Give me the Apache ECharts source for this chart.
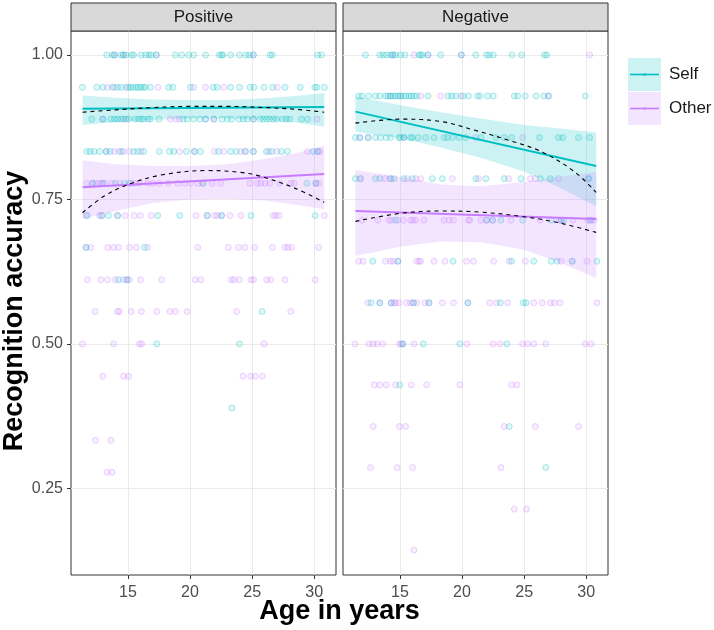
<!DOCTYPE html>
<html><head><meta charset="utf-8">
<script src="https://cdn.jsdelivr.net/npm/echarts@6.0.0/dist/echarts.min.js"></script>
<style>html,body{margin:0;padding:0;background:#fff}#c{width:714px;height:630px}</style>
</head><body><div id="c"></div>
<script>
// ---------------- data ----------------
const panels = ['Positive', 'Negative'];
const groups = ['Self', 'Other'];
const xTicks = [15, 20, 25, 30];
const yTicks = [0.25, 0.50, 0.75, 1.00];
const xLabel = 'Age in years';
const yLabel = 'Recognition accuracy';

// observed points: [accuracy, [ages...]]
const posSelf = [
  [1.000, [13.30,13.76,13.92,14.46,14.65,14.84,15.30,15.46,16.08,16.43,16.70,16.86,17.29,18.82,19.33,19.90,20.30,21.25,22.35,22.54,22.65,23.27,23.99,24.50,24.77,25.10,26.44,26.63,30.27,30.59]],
  [0.944, [11.34,12.50,12.98,13.76,14.17,14.46,15.00,15.19,15.40,15.65,15.83,16.02,16.24,16.40,16.80,18.28,18.61,20.04,21.87,22.19,23.27,23.99,24.83,25.15,25.96,26.66,27.65,28.87,30.05,30.21,30.81]],
  [0.889, [12.09,12.98,13.63,13.92,14.17,14.46,14.84,15.05,15.57,15.86,16.08,16.27,16.62,16.80,17.50,19.44,19.77,20.30,20.79,21.25,21.92,22.57,23.00,23.35,23.94,24.29,24.61,25.10,25.64,25.90,26.17,26.42,26.71,26.98,27.44,27.76,28.03,28.97,29.46]],
  [0.833, [11.69,11.96,12.28,12.71,13.25,13.57,14.46,15.46,15.78,16.27,17.53,18.34,18.69,19.71,20.36,20.84,22.30,23.27,23.72,24.42,25.10,26.15,26.58,27.36,27.84,29.92,30.27]],
  [0.778, [12.15,12.95,13.98,14.73,15.13,21.03,29.41,30.13]],
  [0.722, [11.69,12.90,13.44,14.17,17.40,19.17,21.38,22.54,24.91,30.08]],
  [0.667, [11.63,16.35]],
  [0.611, [14.25,14.92]],
  [0.556, [25.80]],
  [0.500, [17.32,23.97]],
  [0.389, [23.37]]
];
const posOther = [
  [1.000, [13.92,14.65,17.29,25.10]],
  [0.944, [13.36,13.92,14.84,17.42,20.30,21.25,22.73,27.04]],
  [0.889, [12.98,14.65,18.42,18.88,19.15,21.25,21.92,25.10,30.21]],
  [0.833, [13.25,13.90,14.27,14.65,15.11,16.05,19.15,20.36,21.97,22.73,24.07,24.50,25.10,26.34,26.98,29.46,30.27,30.46]],
  [0.778, [11.69,12.15,12.42,12.68,12.95,13.17,13.71,14.33,15.32,15.59,15.94,16.59,17.02,17.53,18.23,19.01,19.55,20.04,20.63,21.03,21.79,22.46,24.83,25.42,25.69,26.04,26.42,27.22,28.11,28.38,30.13,30.35]],
  [0.722, [11.69,12.71,12.90,14.17,14.78,15.51,16.00,16.88,20.49,21.38,21.97,22.19,22.54,23.21,24.10,26.69,26.90,27.17,30.81]],
  [0.667, [11.63,12.01,13.38,13.84,14.25,15.13,15.67,16.59,20.63,23.08,23.89,24.42,25.20,26.63,27.63,27.87,28.17,30.35]],
  [0.611, [11.74,12.82,13.36,13.98,14.65,14.92,15.13,16.02,17.72,20.41,20.87,23.32,23.54,23.97,24.91,25.12,26.17,26.50,27.65,30.08]],
  [0.556, [12.36,14.17,14.30,15.27,16.08,17.32,18.37,18.82,19.77,23.75,28.11]],
  [0.500, [11.34,13.84,15.92,16.10,25.96]],
  [0.444, [12.98,14.65,15.05,24.26,24.88,25.23,25.82]],
  [0.333, [12.39,13.63]],
  [0.278, [13.33,13.71]]
];
const negSelf = [
  [1.000, [12.23,13.38,13.65,13.92,14.25,14.43,14.65,15.05,15.40,16.53,16.67,16.80,17.26,18.28,19.95,21.11,21.97,22.19,22.51,24.02,24.80,26.63,26.82]],
  [0.929, [11.69,11.96,12.50,13.03,13.38,13.84,14.03,14.25,14.46,14.65,14.84,15.05,15.27,15.48,15.73,15.92,16.13,16.35,17.26,18.88,19.17,19.50,20.09,20.52,21.25,21.46,22.06,22.51,24.21,24.48,25.10,25.96,26.58,26.96,29.92]],
  [0.857, [11.42,11.77,12.44,13.03,13.44,13.90,14.25,14.92,15.05,15.32,15.86,16.00,16.46,17.08,17.75,18.55,18.82,19.23,19.77,20.30,21.52,22.73,23.40,23.99,26.23,27.76,28.11,29.38,30.27]],
  [0.786, [11.42,11.82,13.03,13.38,14.25,14.52,15.32,16.00,17.61,18.42,21.11,21.92,23.40,24.75,26.31,27.12,30.19]],
  [0.714, [14.65,21.97,22.46,23.13,24.88,27.17,27.98,28.19,30.35]],
  [0.643, [12.82,14.84,19.28,23.99,25.77,27.17,27.65,28.87,30.86]],
  [0.571, [12.68,13.38,14.30,16.08,17.34,20.47,23.08,24.94,25.15]],
  [0.500, [15.24,16.88,19.82,23.62]],
  [0.429, [15.00]],
  [0.357, [23.80]],
  [0.286, [26.74]]
];
const negOther = [
  [1.000, [14.43,16.13,17.26,19.95,30.27]],
  [0.929, [14.25,15.05,16.67,18.28,19.90,26.96]],
  [0.857, [11.77,12.44,15.32,21.11,24.88]],
  [0.786, [11.82,13.79,14.25,15.59,16.27,16.67,19.23,21.33,23.75,25.50,25.90,27.76,30.19]],
  [0.714, [11.96,13.25,14.11,14.30,14.84,15.27,15.86,16.05,16.27,16.94,18.55,18.96,19.31,20.52,20.63,21.52,21.97,22.46,23.94,26.28,27.84,27.98,28.92,30.13,30.35,30.62]],
  [0.643, [11.69,12.04,13.84,14.25,14.46,14.84,16.35,16.53,16.67,17.75,18.63,20.36,20.92,22.54,23.80,25.10,27.98,28.87,30.05]],
  [0.571, [12.42,13.38,14.30,14.52,14.65,14.92,15.54,15.86,16.08,16.35,17.02,17.34,18.42,19.31,20.47,22.24,22.78,23.67,25.77,26.44,27.12,27.44,27.90,30.86]],
  [0.500, [11.37,12.50,12.85,13.17,13.63,14.97,15.11,15.24,16.13,20.38,22.51,23.08,24.88,25.28,25.77,26.74,29.92,30.40]],
  [0.429, [12.95,13.38,13.90,14.65,15.92,17.15,19.82,23.99,24.42]],
  [0.357, [12.85,14.97,15.46,23.40,25.90,29.38]],
  [0.286, [12.63,14.78,16.02,23.13]],
  [0.214, [24.21,25.18]],
  [0.143, [16.13]]
];

// linear fits (endpoints) and their confidence bands
const posSelfLin  = [[11.35, 0.907], [30.8, 0.910]];
const posOtherLin = [[11.35, 0.771], [30.8, 0.794]];
const negSelfLin  = [[11.42, 0.902], [30.8, 0.808]];
const negOtherLin = [[11.42, 0.730], [30.8, 0.716]];

const posBandAge   = [11.35, 14, 17, 20, 23, 26, 28.5, 30.8];
const posSelfHi    = [0.930, 0.926, 0.923, 0.922, 0.922, 0.925, 0.929, 0.934];
const posSelfLo    = [0.879, 0.884, 0.888, 0.890, 0.890, 0.888, 0.883, 0.876];
const posOtherHi   = [0.818, 0.811, 0.808, 0.808, 0.811, 0.820, 0.830, 0.843];
const posOtherLo   = [0.716, 0.730, 0.744, 0.750, 0.751, 0.748, 0.741, 0.733];

const negBandAge   = [11.42, 15.05, 18.28, 21.5, 25.02, 27.7, 30.8];
const negSelfHi    = [0.928, 0.913, 0.901, 0.890, 0.879, 0.873, 0.866];
const negSelfLo    = [0.867, 0.856, 0.840, 0.822, 0.798, 0.772, 0.738];
const negOtherHi   = [0.801, 0.789, 0.776, 0.773, 0.780, 0.789, 0.798];
const negOtherLo   = [0.652, 0.668, 0.677, 0.676, 0.663, 0.642, 0.614];

// quadratic fits (dashed)
const posSelfQuad  = [[11.35,0.901],[14,0.905],[17,0.909],[20,0.911],[23,0.911],[26,0.909],[28.5,0.906],[30.8,0.901]];
const posOtherQuad = [[11.35,0.727],[13.03,0.755],[14.92,0.775],[17.61,0.792],[21.4,0.800],[24,0.797],[25.69,0.790],[28.38,0.770],[30.8,0.745]];
const negSelfQuad  = [[11.42,0.882],[15.05,0.889],[18.28,0.885],[20.98,0.870],[23.67,0.853],[26.36,0.833],[29.05,0.798],[30.8,0.762]];
const negOtherQuad = [[11.42,0.712],[15.05,0.726],[18.28,0.730],[21.5,0.728],[25.02,0.720],[27.7,0.710],[30.8,0.693]];

// ---------------- styling ----------------
const FONT = '"Liberation Sans", Arial, Helvetica, sans-serif';
const COL = { Self: [0, 191, 196], Other: [199, 124, 255] };
const rgba = (c, a) => `rgba(${c[0]},${c[1]},${c[2]},${a})`;
const GRID = [
  { left: 71, top: 31, width: 265, height: 544 },
  { left: 343, top: 31, width: 265, height: 544 }
];
const XMIN = 10.42, XMAX = 31.75, YMIN = 0.1, YMAX = 1.0415;

function flatten(rows) {
  const out = [];
  rows.forEach(([acc, ages]) => ages.forEach(a => out.push([a, acc])));
  return out;
}
function scatter(p, rows, g) {
  return {
    type: 'scatter', xAxisIndex: p, yAxisIndex: p, data: flatten(rows),
    symbol: 'circle', symbolSize: 6, silent: true, z: 2,
    itemStyle: { color: rgba(COL[g], 0.16), borderColor: rgba(COL[g], 0.38), borderWidth: 1 }
  };
}
function ribbon(p, ages, lo, hi, g) {
  return {
    type: 'custom', xAxisIndex: p, yAxisIndex: p, data: [[ages[0], lo[0]]],
    clip: true, silent: true, z: 3,
    renderItem: (params, api) => {
      const pts = [];
      ages.forEach((a, i) => pts.push(api.coord([a, hi[i]])));
      for (let i = ages.length - 1; i >= 0; i--) pts.push(api.coord([ages[i], lo[i]]));
      return { type: 'polygon', shape: { points: pts }, style: { fill: rgba(COL[g], 0.2) } };
    }
  };
}
function fitLine(p, data, g) {
  return {
    type: 'line', xAxisIndex: p, yAxisIndex: p, data, showSymbol: false, silent: true, z: 4,
    lineStyle: { color: rgba(COL[g], 1), width: 2 }
  };
}
function quadLine(p, data) {
  return {
    type: 'line', xAxisIndex: p, yAxisIndex: p, data, showSymbol: false, silent: true, z: 5,
    smooth: 0.35, lineStyle: { color: '#000', width: 1.1, type: [4, 4] }
  };
}

const xAxes = [0, 1].map(p => ({
  gridIndex: p, type: 'value', min: XMIN, max: XMAX,
  axisLine: { show: false },
  axisTick: { show: true, length: 4, customValues: xTicks, lineStyle: { color: '#333333' } },
  axisLabel: { customValues: xTicks, fontSize: 16, color: '#4D4D4D', margin: 10, fontFamily: FONT },
  splitLine: { show: true, lineStyle: { color: '#EBEBEB', width: 1 } }
}));
const yAxes = [0, 1].map(p => ({
  gridIndex: p, type: 'value', min: YMIN, max: YMAX,
  axisLine: { show: false },
  axisTick: { show: p === 0, length: 4, customValues: yTicks, lineStyle: { color: '#333333' } },
  axisLabel: { show: p === 0, customValues: yTicks, fontSize: 16, color: '#4D4D4D', margin: 8, fontFamily: FONT,
    formatter: v => v.toFixed(2) },
  splitLine: { show: true, lineStyle: { color: '#EBEBEB', width: 1 } }
}));

const series = [
  scatter(0, posOther, 'Other'), scatter(0, posSelf, 'Self'),
  scatter(1, negOther, 'Other'), scatter(1, negSelf, 'Self'),
  ribbon(0, posBandAge, posSelfLo, posSelfHi, 'Self'),
  ribbon(0, posBandAge, posOtherLo, posOtherHi, 'Other'),
  ribbon(1, negBandAge, negSelfLo, negSelfHi, 'Self'),
  ribbon(1, negBandAge, negOtherLo, negOtherHi, 'Other'),
  fitLine(0, posSelfLin, 'Self'), fitLine(0, posOtherLin, 'Other'),
  fitLine(1, negSelfLin, 'Self'), fitLine(1, negOtherLin, 'Other'),
  quadLine(0, posSelfQuad), quadLine(0, posOtherQuad),
  quadLine(1, negSelfQuad), quadLine(1, negOtherQuad)
];

const graphics = [];
panels.forEach((name, p) => {
  const g = GRID[p];
  graphics.push({ type: 'rect', shape: { x: g.left, y: 3, width: g.width, height: 28 },
    style: { fill: '#D9D9D9', stroke: '#333333', lineWidth: 1 }, z: 10 });
  graphics.push({ type: 'text', x: g.left + g.width / 2, y: 17.5, z: 11,
    style: { text: name, font: `17px ${FONT}`, fill: '#1A1A1A', textAlign: 'center', textVerticalAlign: 'middle' } });
});
// legend
groups.forEach((name, i) => {
  const y0 = 58 + i * 34;
  graphics.push({ type: 'rect', shape: { x: 628, y: y0, width: 33, height: 33 },
    style: { fill: rgba(COL[name], 0.2) }, z: 10 });
  graphics.push({ type: 'line', shape: { x1: 630, y1: y0 + 16.5, x2: 659, y2: y0 + 16.5 },
    style: { stroke: rgba(COL[name], 1), lineWidth: 1.6 }, z: 11 });
  graphics.push({ type: 'circle', shape: { cx: 644.5, cy: y0 + 16.5, r: 1.6 },
    style: { fill: rgba(COL[name], 0.6) }, z: 12 });
  graphics.push({ type: 'text', x: 669, y: y0 + 16.5, z: 11,
    style: { text: name, font: `17px ${FONT}`, fill: '#1A1A1A', textAlign: 'left', textVerticalAlign: 'middle' } });
});
// axis titles
graphics.push({ type: 'text', x: 339.5, y: 612, z: 11,
  style: { text: xLabel, font: `bold 27px ${FONT}`, fill: '#000', textAlign: 'center', textVerticalAlign: 'middle' } });
graphics.push({ type: 'text', x: 15, y: 311, rotation: Math.PI / 2, z: 11,
  style: { text: yLabel, font: `bold 27px ${FONT}`, fill: '#000', textAlign: 'center', textVerticalAlign: 'middle' } });

const chart = echarts.init(document.getElementById('c'), null, { renderer: 'canvas' });
chart.setOption({
  animation: false,
  backgroundColor: '#ffffff',
  grid: GRID.map(g => Object.assign({ show: true, borderColor: '#333333', borderWidth: 1, backgroundColor: 'transparent' }, g)),
  xAxis: xAxes,
  yAxis: yAxes,
  series,
  graphic: graphics
});
</script>
</body></html>
